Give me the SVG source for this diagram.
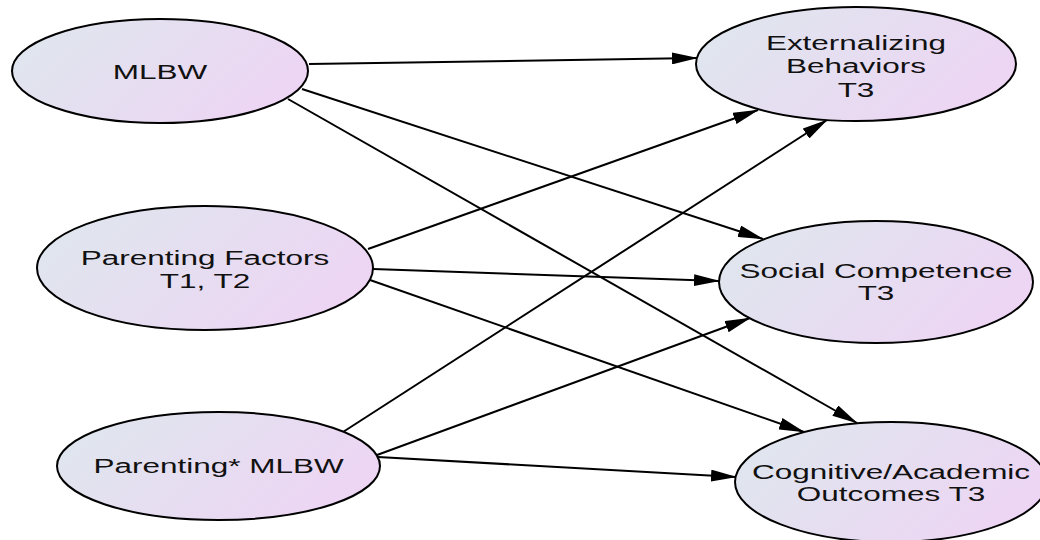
<svg xmlns="http://www.w3.org/2000/svg" width="1040" height="540" viewBox="0 0 1040 540">
<defs>
<linearGradient id="fill" x1="0" y1="0.3" x2="1" y2="0.7">
<stop offset="0" stop-color="#dfe6ee"/>
<stop offset="1" stop-color="#eed4f4"/>
</linearGradient>
<marker id="arrow" viewBox="0 0 26 12" refX="25" refY="6" markerWidth="26" markerHeight="12" markerUnits="userSpaceOnUse" orient="auto">
<path d="M0,0 L26,6 L0,12 Z" fill="#000"/>
</marker>
<style>
.node ellipse { fill: url(#fill); stroke: #000; stroke-width: 2; }
.node text { font-family: "Liberation Sans", Arial, sans-serif; font-size: 21px; fill: #111; text-anchor: middle; }
.edges line { stroke: #000; stroke-width: 2; marker-end: url(#arrow); }
</style>
</defs>
<rect width="1040" height="540" fill="#fff"/>
<g id="edges" class="edges">
<line x1="309" y1="64" x2="697" y2="58"/>
<line x1="302" y1="89" x2="763" y2="239"/>
<line x1="288" y1="99" x2="857" y2="423"/>
<line x1="368" y1="249" x2="758" y2="110"/>
<line x1="373" y1="269" x2="719" y2="281"/>
<line x1="370" y1="280" x2="804" y2="432"/>
<line x1="343" y1="432" x2="827" y2="120"/>
<line x1="377" y1="455" x2="750" y2="318"/>
<line x1="378" y1="457" x2="736" y2="477"/>
</g>
<g id="mlbw" class="node">
<ellipse cx="160" cy="71" rx="148" ry="52"/>
<text transform="translate(160 79) scale(1.5 1)">MLBW</text>
</g>
<g id="parenting-factors" class="node">
<ellipse cx="205" cy="268" rx="168" ry="62"/>
<text transform="translate(205 265) scale(1.5 1)"><tspan x="0">Parenting Factors</tspan><tspan x="0" dy="23">T1, T2</tspan></text>
</g>
<g id="parenting-mlbw" class="node">
<ellipse cx="218.5" cy="466" rx="161.5" ry="54"/>
<text transform="translate(218.5 473) scale(1.5 1)">Parenting* MLBW</text>
</g>
<g id="externalizing" class="node">
<ellipse cx="856" cy="64" rx="160" ry="57"/>
<text transform="translate(856 50) scale(1.5 1)"><tspan x="0">Externalizing</tspan><tspan x="0" dy="23.5">Behaviors</tspan><tspan x="0" dy="23.5">T3</tspan></text>
</g>
<g id="social" class="node">
<ellipse cx="876" cy="282" rx="157" ry="61"/>
<text transform="translate(876 278) scale(1.5 1)"><tspan x="0">Social Competence</tspan><tspan x="0" dy="22">T3</tspan></text>
</g>
<g id="cognitive" class="node">
<ellipse cx="891" cy="482" rx="156" ry="60"/>
<text transform="translate(891 479) scale(1.5 1)"><tspan x="0">Cognitive/Academic</tspan><tspan x="0" dy="22">Outcomes T3</tspan></text>
</g>
</svg>
